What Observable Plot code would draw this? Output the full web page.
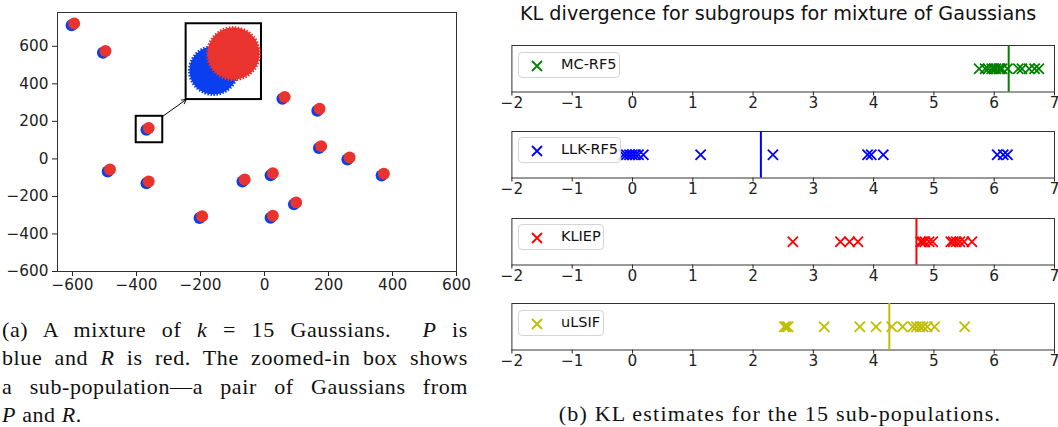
<!DOCTYPE html>
<html><head><meta charset="utf-8">
<script src="https://cdn.jsdelivr.net/npm/d3@7"></script>
<script src="https://cdn.jsdelivr.net/npm/@observablehq/plot@0.6"></script>
<style>
body{margin:0;background:#fff;}
#root{position:relative;width:1058px;height:427px;overflow:hidden;background:#fff;font-family:"DejaVu Sans",sans-serif;}
.abs{position:absolute;}
.cap{font-family:"Liberation Serif",serif;font-size:22px;color:#111;white-space:nowrap;}
.capline{position:absolute;left:0;width:466px;text-align:justify;text-align-last:justify;letter-spacing:0.6px;}
.legend{position:absolute;border:1px solid #d4d4d4;border-radius:4px;background:rgba(255,255,255,0.85);height:26px;box-sizing:border-box;}
.legend span{position:absolute;left:42px;top:3px;font-size:14.5px;color:#111;font-family:"DejaVu Sans";white-space:nowrap;}
.legend svg{position:absolute;left:11px;top:6px;}
</style></head><body><div id="root"></div>
<script>
// ---- Data: left panel (cluster centres of the 15 Gaussian pairs) ----
const rX = [-595, -497, -362, -483, -362, -195, -62, 26, 26, 99, 63, 172, 177, 266, 373];
const rY = [722, 575, 165, -57, -120, -305, -110, -77, -303, -232, 330, 267, 68, 7, -79];
const pX = [-603, -505, -369, -490, -369, -203, -69, 19, 19, 92, 56, 165, 170, 259, 366];
const pY = [712, 565, 155, -67, -130, -315, -120, -87, -313, -242, 320, 257, 58, -3, -89];
const scatterTicks = [-600, -400, -200, 0, 200, 400, 600];

// ---- Data: right panel (KL estimates for the 15 sub-populations) ----
const methods = ["MC-RF5", "LLK-RF5", "KLIEP", "uLSIF"];
const colors = ["#008000", "#0000ff", "#ff0000", "#bfbf00"];
const mcRF5 = [5.75, 5.85, 5.90, 5.96, 6.00, 6.03, 6.08, 6.10, 6.13, 6.22, 6.40, 6.46, 6.58, 6.67, 6.74];
const llkRF5 = [-0.15, -0.10, -0.05, 0.00, 0.05, 0.10, 0.18, 1.13, 2.33, 3.90, 3.96, 4.16, 6.05, 6.15, 6.22];
const kliep = [2.66, 3.45, 3.60, 3.74, 4.78, 4.81, 4.85, 4.92, 4.98, 5.28, 5.32, 5.37, 5.43, 5.50, 5.63];
const ulsif = [2.52, 2.55, 2.58, 3.18, 3.77, 4.04, 4.30, 4.48, 4.65, 4.71, 4.77, 4.82, 4.89, 5.01, 5.51];
const means = [6.24, 2.13, 4.71, 4.26];
const klTicks = [-2, -1, 0, 1, 2, 3, 4, 5, 6, 7];

const root = document.getElementById("root");
const RED = "#e8332f", BLUE = "#0a3ff0";

// ---- Left scatter ----
const P = pX.map((x, i) => ({x, y: pY[i]}));
const R = rX.map((x, i) => ({x, y: rY[i]}));
const smallBox = [{x1: -401, x2: -318, y1: 86, y2: 227}];
const insetBox = [{x1: -245, x2: -9.5, y1: 316, y2: 720}];
const arrow = [{x1: -318, y1: 227, x2: -245, y2: 316}];
const cloudP = [{x: -159.5, y: 471}];
const cloudR = [{x: -97, y: 561}];

const left = Plot.plot({
  width: 470, height: 300,
  marginLeft: 57, marginTop: 12, marginRight: 14, marginBottom: 29,
  style: {fontFamily: "DejaVu Sans", fontSize: "15.3px", color: "#222", background: "transparent", overflow: "visible"},
  x: {domain: [-647, 600], ticks: scatterTicks, tickSize: 5, tickPadding: 3, label: null},
  y: {domain: [-600, 780], ticks: scatterTicks, tickSize: 5, tickPadding: 4, label: null},
  marks: [
    Plot.frame({stroke: "#333"}),
    Plot.dot(P, {x: "x", y: "y", r: 6, fill: BLUE}),
    Plot.dot(R, {x: "x", y: "y", r: 6, fill: RED}),
    Plot.rect(smallBox, {x1: "x1", x2: "x2", y1: "y1", y2: "y2", fill: "none", stroke: "black", strokeWidth: 2}),
    Plot.arrow(arrow, {x1: "x1", y1: "y1", x2: "x2", y2: "y2", stroke: "black", strokeWidth: 1, headLength: 7, inset: 0}),
    Plot.rect(insetBox, {x1: "x1", x2: "x2", y1: "y1", y2: "y2", fill: "white", stroke: "black", strokeWidth: 2}),
    Plot.dot(cloudP, {x: "x", y: "y", r: 24, fill: BLUE, stroke: BLUE, strokeWidth: 3, strokeDasharray: "1.5,1.5"}),
    Plot.dot(cloudR, {x: "x", y: "y", r: 26, fill: RED, stroke: RED, strokeWidth: 3, strokeDasharray: "1.5,1.5"})
  ]
});
left.style.position = "absolute"; left.style.left = "0px"; left.style.top = "0px";
root.appendChild(left);

// caption (a)
const capA = document.createElement("div");
capA.className = "abs cap";
capA.style.cssText += "left:2px;top:317px;width:468px;height:110px;";
const linesA = [
  '(a) A mixture of <i>k</i> = 15 Gaussians. &nbsp;<i>P</i> is',
  'blue and <i>R</i> is red. The zoomed-in box shows',
  'a sub-population—a pair of Gaussians from',
];
linesA.forEach((h, i) => {
  const d = document.createElement("div");
  d.className = "capline"; d.style.top = (i * 28.3) + "px"; d.innerHTML = h;
  capA.appendChild(d);
});
const last = document.createElement("div");
last.style.cssText = "position:absolute;left:0;top:84.9px;letter-spacing:0.6px;";
last.innerHTML = "<i>P</i> and <i>R</i>.";
capA.appendChild(last);
root.appendChild(capA);

// ---- Right panels ----
const title = document.createElement("div");
title.className = "abs";
title.style.cssText = "left:520px;top:2px;width:516px;text-align:center;font-size:19.2px;color:#111;white-space:nowrap;";
title.textContent = "KL divergence for subgroups for mixture of Gaussians";
root.appendChild(title);

const series = [mcRF5, llkRF5, kliep, ulsif];
const tops = [45, 130.7, 217.5, 303.2];
const legendW = [102, 103, 86, 86];
series.forEach((vals, i) => {
  const color = colors[i];
  const p = Plot.plot({
    width: 568, height: 70.5,
    marginLeft: 21.4, marginRight: 4, marginTop: 2, marginBottom: 22,
    style: {fontFamily: "DejaVu Sans", fontSize: "15.3px", color: "#222", background: "transparent", overflow: "visible"},
    x: {domain: [-2, 7], ticks: klTicks, tickSize: 4, tickPadding: 1, label: null},
    marks: [
      Plot.frame({stroke: "#333"}),
      Plot.ruleX([means[i]], {stroke: color, strokeWidth: 2}),
      Plot.dot(vals, {x: d => d, symbol: "times", r: 4.7, stroke: color, strokeWidth: 1.8})
    ]
  });
  p.style.position = "absolute"; p.style.left = "490px"; p.style.top = (tops[i] - 2) + "px";
  root.appendChild(p);

  const lg = document.createElement("div");
  lg.className = "legend";
  lg.style.left = "518px"; lg.style.top = (tops[i] + 6.5) + "px"; lg.style.width = legendW[i] + "px";
  lg.innerHTML = `<svg width="14" height="14"><path d="M2,2L12,12M12,2L2,12" stroke="${color}" stroke-width="1.8"/></svg><span>${methods[i]}</span>`;
  root.appendChild(lg);
});

// caption (b)
const capB = document.createElement("div");
capB.className = "abs cap";
capB.style.cssText += "left:530px;top:401px;width:500px;text-align:center;letter-spacing:1.2px;";
capB.textContent = "(b) KL estimates for the 15 sub-populations.";
root.appendChild(capB);
</script>
</body></html>
